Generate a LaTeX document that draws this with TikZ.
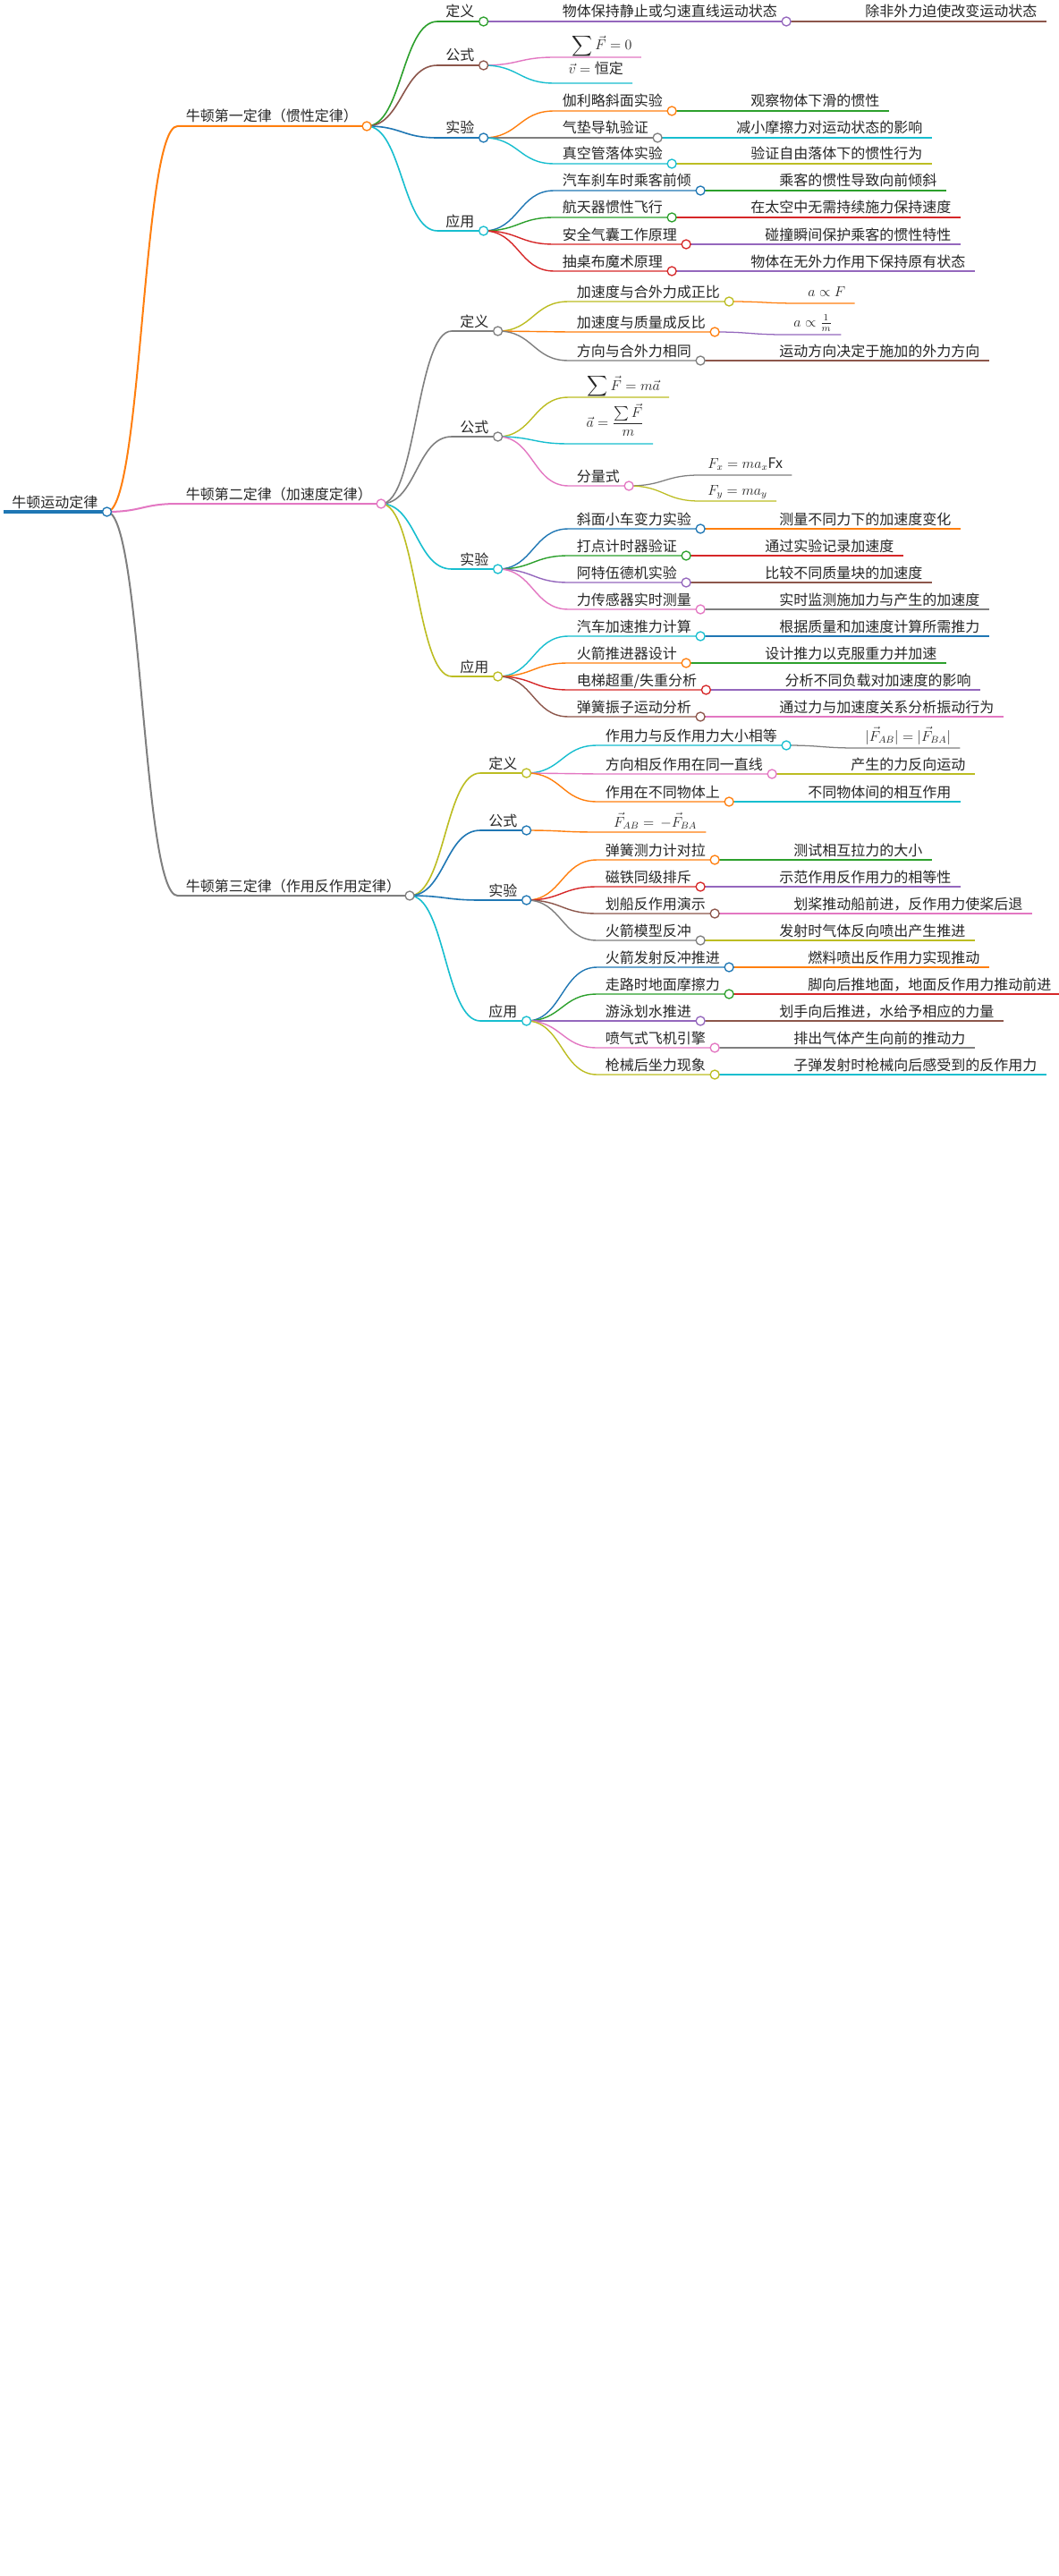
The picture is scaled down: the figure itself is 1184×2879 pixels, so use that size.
\documentclass[tikz,border=0pt]{standalone}
\usepackage{amsmath}
\usepackage[no-math]{fontspec}
\setmainfont{Noto Sans CJK SC}
\usetikzlibrary{calc}
\pgfdeclarelayer{fg}
\pgfsetlayers{main,fg}
\definecolor{mblue}{HTML}{1F77B4}
\definecolor{morange}{HTML}{FF7F0E}
\definecolor{mgreen}{HTML}{2CA02C}
\definecolor{mred}{HTML}{D62728}
\definecolor{mpurple}{HTML}{9467BD}
\definecolor{mbrown}{HTML}{8C564B}
\definecolor{mpink}{HTML}{E377C2}
\definecolor{mgray}{HTML}{7F7F7F}
\definecolor{molive}{HTML}{BCBD22}
\definecolor{mcyan}{HTML}{17BECF}

% [text dy] name, parent, y, colour, width, text
\newcommand{\twig}[7][-5]{%
  \coordinate (#2-in) at ($(#3 |- 0,#4)+(79,0)$);
  \coordinate (#2-mid) at ($(#3)!0.5!(#2-in)$);
  \node[leaf, anchor=base west] (#2-t) at ($(#2-in)+(9,#1)$) {#7};
  \coordinate (#2) at ($(#2-t.east |- #2-in)+(10,0)$);
  \draw[color=#5, #6] (#3) .. controls (#2-mid |- #3) and (#2-mid |- #2-in) .. (#2-in) -- (#2);
}
\newcommand{\knob}[2]{%
  \begin{pgfonlayer}{fg}\node[bead=#2] (#1-o) at (#1) {};\end{pgfonlayer}}
% parent, key, y, colour, text, leaf colour, leaf text
\newcommand{\twigpair}[7]{%
  \twig{#1-#2}{#1}{#3}{#4}{lv3}{#5}%
  \twig{#1-#2-x}{#1-#2}{#3}{#6}{lv4}{#7}%
  \knob{#1-#2}{#4}}

\begin{document}
\begin{tikzpicture}[x=0.75pt, y=-0.75pt,
  leaf/.style={inner sep=0pt, text=black!85, font=\fontsize{12pt}{14pt}\selectfont},
  bead/.style={circle, draw=#1, fill=white, line width=1pt, inner sep=0pt, minimum size=7.5pt},
  lv0/.style={line width=3pt}, lv1/.style={line width=1.5pt},
  lv2/.style={line width=1.2pt}, lv3/.style={line width=1.05pt},
  lv4/.style={line width=0.95pt}]
  \fill[white] (0,0) rectangle (1184,2879);
  \useasboundingbox (0,0) rectangle (1184,2879);

  % root
  \coordinate (root-in) at (4,572);
  \node[leaf, anchor=base west] (root-t) at (13,567) {牛顿运动定律};
  \coordinate (root) at ($(root-t.east |- root-in)+(10,0)$);
  \draw[mblue, lv0] (root-in) -- (root);
  \knob{root}{mblue}

  % first law
  \twig{I}{root}{141}{morange}{lv1}{牛顿第一定律（惯性定律）}
  \twig{I-def}{I}{24}{mgreen}{lv2}{定义}
  \twig{I-fml}{I}{73}{mbrown}{lv2}{公式}
  \twig{I-exp}{I}{154}{mblue}{lv2}{实验}
  \twig{I-app}{I}{258}{mcyan}{lv2}{应用}
  \twigpair{I-def}{a}{24}{mpurple}{物体保持静止或匀速直线运动状态}{mbrown}{除非外力迫使改变运动状态}
  \twig[-8]{I-fml-a}{I-fml}{64}{mpink}{lv3}{\kern8pt$\displaystyle\sum\vec F = 0$}
  \twig[-10]{I-fml-b}{I-fml}{93}{mcyan}{lv3}{\kern5pt$\vec v = \text{恒定}$}
  \foreach \k/\y/\ca/\ta/\cb/\tb in {
    a/124/morange/伽利略斜面实验/mgreen/观察物体下滑的惯性,
    b/154/mgray/气垫导轨验证/mcyan/减小摩擦力对运动状态的影响,
    c/183/mcyan/真空管落体实验/molive/验证自由落体下的惯性行为}
    {\twigpair{I-exp}{\k}{\y}{\ca}{\ta}{\cb}{\tb}}
  \foreach \k/\y/\ca/\ta/\cb/\tb in {
    a/213/mblue/汽车刹车时乘客前倾/mgreen/乘客的惯性导致向前倾斜,
    b/243/mgreen/航天器惯性飞行/mred/在太空中无需持续施力保持速度,
    c/273/mred/安全气囊工作原理/mpurple/碰撞瞬间保护乘客的惯性特性,
    d/303/mred/抽桌布魔术原理/mpurple/物体在无外力作用下保持原有状态}
    {\twigpair{I-app}{\k}{\y}{\ca}{\ta}{\cb}{\tb}}
  \knob{I}{morange}
  \knob{I-def}{mgreen}
  \knob{I-fml}{mbrown}
  \knob{I-exp}{mblue}
  \knob{I-app}{mcyan}

  % second law
  \twig{II}{root}{563}{mpink}{lv1}{牛顿第二定律（加速度定律）}
  \twig{II-def}{II}{370}{mgray}{lv2}{定义}
  \twig{II-fml}{II}{488}{mgray}{lv2}{公式}
  \twig{II-exp}{II}{636}{mcyan}{lv2}{实验}
  \twig{II-app}{II}{756}{molive}{lv2}{应用}
  \twig{II-def-a}{II-def}{337}{molive}{lv3}{加速度与合外力成正比}
  \twig[-8]{II-def-a-x}{II-def-a}{339}{morange}{lv4}{$a \propto F$}
  \twig{II-def-b}{II-def}{371}{morange}{lv3}{加速度与质量成反比}
  \twig[-9]{II-def-b-x}{II-def-b}{374}{mpurple}{lv4}{$a \propto \frac{1}{m}$}
  \twigpair{II-def}{c}{403}{mgray}{方向与合外力相同}{mbrown}{运动方向决定于施加的外力方向}
  \knob{II-def-a}{molive}
  \knob{II-def-b}{morange}
  \twig[-8]{II-fml-a}{II-fml}{444}{molive}{lv3}{\kern9pt$\displaystyle\sum\vec F = m\vec a$}
  \twig[-19]{II-fml-b}{II-fml}{496}{mcyan}{lv3}{\kern8pt$\vec a = \dfrac{\sum\vec F}{m}$}
  \twig{II-fml-c}{II-fml}{543}{mpink}{lv3}{分量式}
  \twig[-8]{II-fml-c-x}{II-fml-c}{531}{mgray}{lv4}{$F_x = ma_x$Fx}
  \twig[-7]{II-fml-c-y}{II-fml-c}{560}{molive}{lv4}{$F_y = ma_y$}
  \knob{II-fml-c}{mpink}
  \foreach \k/\y/\ca/\ta/\cb/\tb in {
    a/591/mblue/斜面小车变力实验/morange/测量不同力下的加速度变化,
    b/621/mgreen/打点计时器验证/mred/通过实验记录加速度,
    c/651/mpurple/阿特伍德机实验/mbrown/比较不同质量块的加速度,
    d/681/mpink/力传感器实时测量/mgray/实时监测施加力与产生的加速度}
    {\twigpair{II-exp}{\k}{\y}{\ca}{\ta}{\cb}{\tb}}
  \foreach \k/\y/\ca/\ta/\cb/\tb in {
    a/711/mcyan/汽车加速推力计算/mblue/根据质量和加速度计算所需推力,
    b/741/morange/火箭推进器设计/mgreen/设计推力以克服重力并加速,
    c/771/mred/{电梯超重/失重分析}/mpurple/分析不同负载对加速度的影响,
    d/801/mbrown/弹簧振子运动分析/mpink/通过力与加速度关系分析振动行为}
    {\twigpair{II-app}{\k}{\y}{\ca}{\ta}{\cb}{\tb}}
  \knob{II}{mpink}
  \knob{II-def}{mgray}
  \knob{II-fml}{mgray}
  \knob{II-exp}{mcyan}
  \knob{II-app}{molive}

  % third law
  \twig{III}{root}{1001}{mgray}{lv1}{牛顿第三定律（作用反作用定律）}
  \twig{III-def}{III}{864}{molive}{lv2}{定义}
  \twig{III-fml}{III}{928}{mblue}{lv2}{公式}
  \twig{III-exp}{III}{1006}{mblue}{lv2}{实验}
  \twig{III-app}{III}{1141}{mcyan}{lv2}{应用}
  \twig{III-def-a}{III-def}{833}{mcyan}{lv3}{作用力与反作用力大小相等}
  \twig[-8]{III-def-a-x}{III-def-a}{836}{mgray}{lv4}{$|\vec F_{AB}| = |\vec F_{BA}|$}
  \knob{III-def-a}{mcyan}
  \twigpair{III-def}{b}{865}{mpink}{方向相反作用在同一直线}{molive}{产生的力反向运动}
  \twigpair{III-def}{c}{896}{morange}{作用在不同物体上}{mcyan}{不同物体间的相互作用}
  \twig[-6]{III-fml-a}{III-fml}{930}{morange}{lv3}{\kern7pt$\vec F_{AB} = \,-\vec F_{BA}$}
  \foreach \k/\y/\ca/\ta/\cb/\tb in {
    a/961/morange/弹簧测力计对拉/mgreen/测试相互拉力的大小,
    b/991/mred/磁铁同级排斥/mpurple/示范作用反作用力的相等性,
    c/1021/mbrown/划船反作用演示/mpink/划桨推动船前进，反作用力使桨后退,
    d/1051/mgray/火箭模型反冲/molive/发射时气体反向喷出产生推进}
    {\twigpair{III-exp}{\k}{\y}{\ca}{\ta}{\cb}{\tb}}
  \foreach \k/\y/\ca/\ta/\cb/\tb in {
    a/1081/mblue/火箭发射反冲推进/morange/燃料喷出反作用力实现推动,
    b/1111/mgreen/走路时地面摩擦力/mred/脚向后推地面，地面反作用力推动前进,
    c/1141/mpurple/游泳划水推进/mbrown/划手向后推进，水给予相应的力量,
    d/1171/mpink/喷气式飞机引擎/mgray/排出气体产生向前的推动力,
    e/1201/molive/枪械后坐力现象/mcyan/子弹发射时枪械向后感受到的反作用力}
    {\twigpair{III-app}{\k}{\y}{\ca}{\ta}{\cb}{\tb}}
  \knob{III}{mgray}
  \knob{III-def}{molive}
  \knob{III-fml}{mblue}
  \knob{III-exp}{mblue}
  \knob{III-app}{mcyan}
\end{tikzpicture}
\end{document}
